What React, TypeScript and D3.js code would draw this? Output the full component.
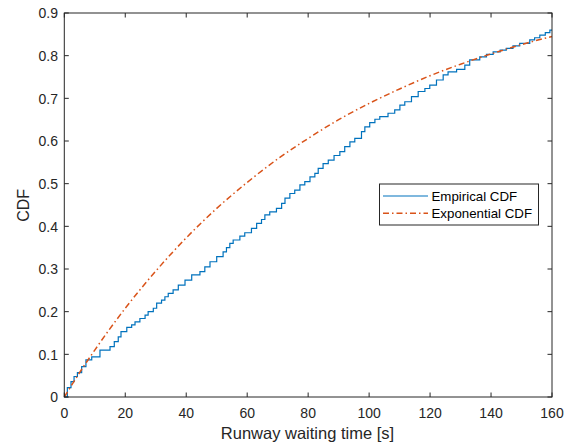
import React from "react";
import * as d3 from "d3";

const xTicks = [0, 20, 40, 60, 80, 100, 120, 140, 160];
const yTicks = [0, 0.1, 0.2, 0.3, 0.4, 0.5, 0.6, 0.7, 0.8, 0.9];

// Empirical CDF (step points)
const empX = [0, 1, 2.2, 3.2, 4.3, 5.7, 7.1, 9, 11.7, 15, 16.4, 17.7, 18.6,
  20.5, 22.1, 23.2, 24.8, 26.5, 27.5, 29.2, 30.3, 31.9, 33, 34.1, 35.7, 37.4, 39.6, 41.8, 44.5, 46.1, 47.8, 50, 52.1, 53.2,
  54.3, 55.4, 57.6, 59.2, 61.4, 63.1, 64.7, 65.8, 67.4, 69.6, 71.3, 72.4, 74, 75.6, 77.3, 78.9, 80.6, 82.2, 83.3, 84.9, 86.6, 88.5,
  90.4, 92, 93.7, 95.3, 97.5, 98.6, 100.2, 101.9, 103.5, 106.2, 108.4, 110.1, 111.7, 113.9, 116.1, 118.3, 119.9, 122.1, 124.3, 125.9,
  128.7, 131.4, 133, 136.3, 138.5, 140.7, 143, 145, 147.2, 149.4, 152.7, 154.3, 156, 157.8, 159.3, 160];
const empY = [0, 0.022, 0.036, 0.048, 0.057, 0.071, 0.087, 0.094, 0.11, 0.118, 0.13, 0.141, 0.153,
  0.163, 0.169, 0.176, 0.184, 0.192, 0.2, 0.208, 0.22, 0.227, 0.235, 0.243, 0.251, 0.262, 0.274, 0.286, 0.294, 0.305, 0.317, 0.329, 0.34, 0.35,
  0.36, 0.368, 0.377, 0.385, 0.395, 0.407, 0.416, 0.427, 0.434, 0.442, 0.454, 0.466, 0.477, 0.485, 0.497, 0.505, 0.516, 0.524, 0.536, 0.547, 0.555, 0.566,
  0.575, 0.587, 0.598, 0.606, 0.622, 0.633, 0.643, 0.651, 0.657, 0.665, 0.673, 0.684, 0.692, 0.704, 0.716, 0.723, 0.731, 0.743, 0.755, 0.762,
  0.768, 0.778, 0.79, 0.797, 0.803, 0.809, 0.813, 0.817, 0.823, 0.829, 0.837, 0.842, 0.848, 0.854, 0.86, 0.86];

// Exponential CDF
const expX = [0, 5, 10, 20, 30, 40, 50, 60, 70, 80, 90, 100, 110, 120, 130, 140, 150, 160];
const expY = [0, 0.057, 0.11, 0.208, 0.295, 0.373, 0.442, 0.503, 0.558, 0.606, 0.65, 0.688, 0.722, 0.753, 0.78, 0.804, 0.826, 0.845];

const seriesNames = ["Empirical CDF", "Exponential CDF"];
const xLabel = "Runway waiting time [s]";
const yLabel = "CDF";

const W = 574, H = 445;
const L = 64.3, R = 552, T = 13, B = 397;
const FONT = "'Liberation Sans', Arial, Helvetica, sans-serif";
const AX = "#262626";
const BLUE = "#0072BD";
const ORANGE = "#D95319";

export default function App() {
  const x = d3.scaleLinear().domain([0, 160]).range([L, R]);
  const y = d3.scaleLinear().domain([0, 0.9]).range([B, T]);
  const empLine = d3.line<number>().x((_, i) => x(empX[i])).y((d) => y(d)).curve(d3.curveStepAfter);
  const expLine = d3.line<number>().x((_, i) => x(expX[i])).y((d) => y(d)).curve(d3.curveMonotoneX);
  const dash = "6,3,1.5,3";
  const tl = 4.5;
  const legX = 379.5, legY = 184, legW = 159, legH = 41;
  return (
    <svg width={W} height={H} style={{ position: "absolute", left: 0, top: 0, background: "#fff" }} fontFamily={FONT}>
      <rect x={0} y={0} width={W} height={H} fill="#fff" />
      <path d={empLine(empY) || ""} fill="none" stroke={BLUE} strokeWidth={1.2} />
      <path d={expLine(expY) || ""} fill="none" stroke={ORANGE} strokeWidth={1.5} strokeDasharray={dash} />
      <rect x={L} y={T} width={R - L} height={B - T} fill="none" stroke={AX} strokeWidth={1} />
      {xTicks.map((t) => (
        <g key={"x" + t}>
          <line x1={x(t)} x2={x(t)} y1={B} y2={B - tl} stroke={AX} />
          <line x1={x(t)} x2={x(t)} y1={T} y2={T + tl} stroke={AX} />
          <text x={x(t)} y={417.7} fontSize={14} textAnchor="middle" fill={AX}>{t}</text>
        </g>
      ))}
      {yTicks.map((t) => (
        <g key={"y" + t}>
          <line x1={L} x2={L + tl} y1={y(t)} y2={y(t)} stroke={AX} />
          <line x1={R} x2={R - tl} y1={y(t)} y2={y(t)} stroke={AX} />
          <text x={58} y={y(t) + 5.4} fontSize={14} textAnchor="end" fill={AX}>{t === 0 ? "0" : t.toFixed(1)}</text>
        </g>
      ))}
      <text x={307.5} y={439.3} fontSize={16.5} textAnchor="middle" fill={AX}>{xLabel}</text>
      <text transform={`translate(28.5,205.3) rotate(-90)`} fontSize={16} textAnchor="middle" fill={AX}>{yLabel}</text>
      <rect x={legX} y={legY} width={legW} height={legH} fill="#fff" stroke={AX} strokeWidth={1} />
      <line x1={383} x2={428} y1={196} y2={196} stroke={BLUE} strokeWidth={1.2} />
      <line x1={383} x2={428} y1={213.3} y2={213.3} stroke={ORANGE} strokeWidth={1.5} strokeDasharray={dash} />
      <text x={431.5} y={200.8} fontSize={13.3} fill="#000">{seriesNames[0]}</text>
      <text x={431.5} y={218.1} fontSize={13.3} fill="#000">{seriesNames[1]}</text>
    </svg>
  );
}
